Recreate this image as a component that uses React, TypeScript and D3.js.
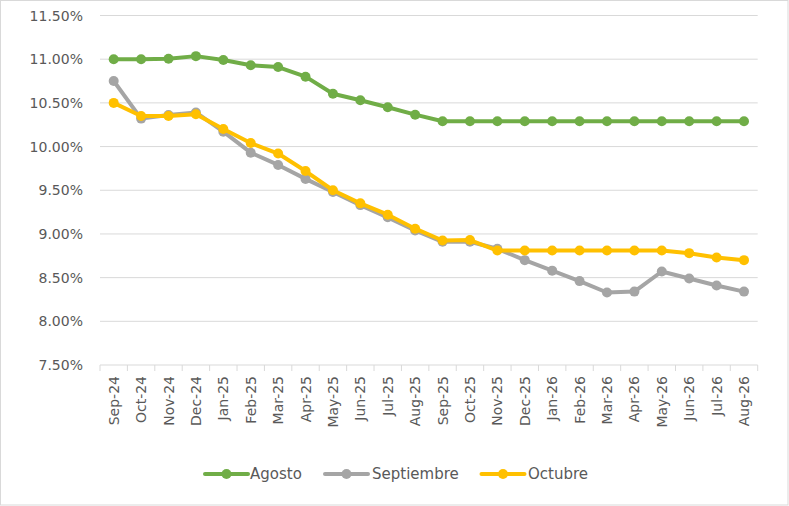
import React from 'react';
import * as d3 from 'd3';

const months = [
  'Sep-24', 'Oct-24', 'Nov-24', 'Dec-24', 'Jan-25', 'Feb-25', 'Mar-25', 'Apr-25',
  'May-25', 'Jun-25', 'Jul-25', 'Aug-25', 'Sep-25', 'Oct-25', 'Nov-25', 'Dec-25',
  'Jan-26', 'Feb-26', 'Mar-26', 'Apr-26', 'May-26', 'Jun-26', 'Jul-26', 'Aug-26',
];

const agosto = [
  11.0, 11.0, 11.005, 11.035, 10.99, 10.93, 10.91, 10.8, 10.605, 10.53, 10.45, 10.365,
  10.29, 10.29, 10.29, 10.29, 10.29, 10.29, 10.29, 10.29, 10.29, 10.29, 10.29, 10.29,
];

const septiembre = [
  10.75, 10.32, 10.36, 10.39, 10.17, 9.93, 9.79, 9.63, 9.48, 9.33, 9.19, 9.04,
  8.91, 8.91, 8.83, 8.7, 8.58, 8.46, 8.33, 8.34, 8.57, 8.49, 8.41, 8.34,
];

const octubre = [
  10.5, 10.35, 10.35, 10.37, 10.2, 10.04, 9.92, 9.72, 9.5, 9.35, 9.22, 9.06,
  8.925, 8.93, 8.81, 8.81, 8.81, 8.81, 8.81, 8.81, 8.81, 8.78, 8.73, 8.7,
];

const yTicks = [7.5, 8.0, 8.5, 9.0, 9.5, 10.0, 10.5, 11.0, 11.5];

const seriesList = [
  { name: 'Agosto', values: agosto, color: '#70ad47' },
  { name: 'Septiembre', values: septiembre, color: '#a5a5a5' },
  { name: 'Octubre', values: octubre, color: '#ffc000' },
];

const W = 789;
const H = 506;
const plot = { left: 100, right: 757.7, top: 15.5, bottom: 365 };
const font = '"DejaVu Sans", sans-serif';
const textColor = '#595959';
const gridColor = '#d9d9d9';

export default function App() {
  const x = d3.scaleBand<string>().domain(months).range([plot.left, plot.right]);
  const y = d3.scaleLinear().domain([7.5, 11.5]).range([plot.bottom, plot.top]);
  const cx = (m: string) => (x(m) ?? 0) + x.bandwidth() / 2;

  const line = d3
    .line<number>()
    .x((_, i) => cx(months[i]))
    .y((d) => y(d));

  const legendItems = [
    { lineX: 205, textX: 250 },
    { lineX: 325, textX: 372 },
    { lineX: 481.5, textX: 528 },
  ];
  const legendY = 474;

  return (
    <svg
      width={W}
      height={H}
      style={{ position: 'absolute', left: 0, top: 0, background: '#fff' }}
    >
      <rect x={0.5} y={0.5} width={W - 1.5} height={H - 1.5} fill="#fff" stroke={gridColor} />

      {/* horizontal gridlines and y labels */}
      {yTicks.map((t) => (
        <g key={t}>
          <line x1={plot.left} x2={plot.right} y1={y(t)} y2={y(t)} stroke={gridColor} strokeWidth={1} />
          <text
            x={83}
            y={y(t)}
            dy="0.36em"
            textAnchor="end"
            fontFamily={font}
            fontSize={14}
            fill={textColor}
          >
            {t.toFixed(2)}%
          </text>
        </g>
      ))}

      {/* category tick marks */}
      {months.concat(['end']).map((m, i) => {
        const tx = plot.left + i * x.bandwidth();
        return (
          <line key={m + i} x1={tx} x2={tx} y1={plot.bottom} y2={plot.bottom + 6} stroke={gridColor} />
        );
      })}

      {months.map((m) => (
        <text
          key={m}
          transform={`translate(${cx(m) + 5},376) rotate(-90)`}
          textAnchor="end"
          fontFamily={font}
          fontSize={14}
          fill={textColor}
        >
          {m}
        </text>
      ))}

      {/* series */}
      {seriesList.map((s) => (
        <g key={s.name}>
          <path
            d={line(s.values) ?? ''}
            fill="none"
            stroke={s.color}
            strokeWidth={4}
            strokeLinejoin="round"
            strokeLinecap="round"
          />
          {s.values.map((v, i) => (
            <circle key={i} cx={cx(months[i])} cy={y(v)} r={5} fill={s.color} />
          ))}
        </g>
      ))}

      {/* legend */}
      {seriesList.map((s, i) => (
        <g key={s.name}>
          <line
            x1={legendItems[i].lineX}
            x2={legendItems[i].lineX + 43}
            y1={legendY}
            y2={legendY}
            stroke={s.color}
            strokeWidth={4}
            strokeLinecap="round"
          />
          <circle cx={legendItems[i].lineX + 21.5} cy={legendY} r={5} fill={s.color} />
          <text
            x={legendItems[i].textX}
            y={legendY}
            dy="0.36em"
            fontFamily={font}
            fontSize={15}
            fill={textColor}
          >
            {s.name}
          </text>
        </g>
      ))}
    </svg>
  );
}
